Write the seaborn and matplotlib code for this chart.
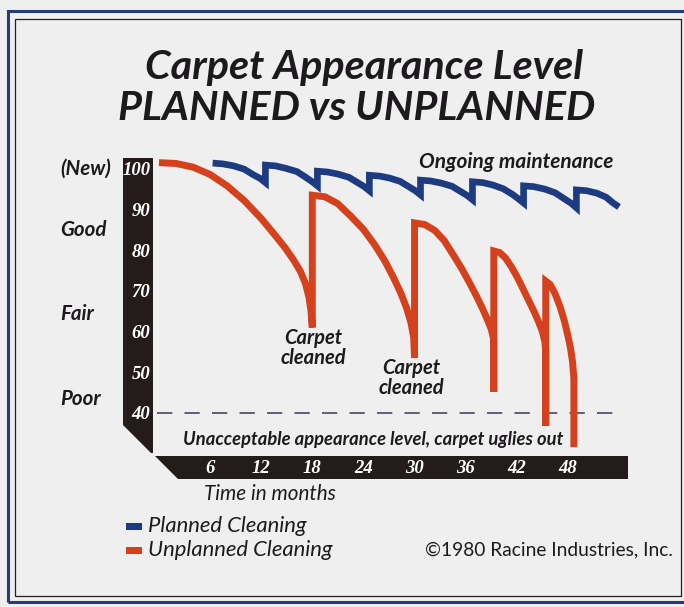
import matplotlib
matplotlib.use("Agg")
import numpy as np
import pandas as pd
import matplotlib.pyplot as plt
from matplotlib.patches import Polygon, Rectangle
import seaborn as sns

# ── Data ────────────────────────────────────────────────────
# Unplanned cleaning: appearance decays, then a jump when carpet is cleaned
red_month = [0, 2, 4, 6, 8, 10, 12, 13.5, 14.8, 15.8, 16.6, 17.2, 17.6, 17.85, 18,
             18, 19.5, 21, 22.5, 24, 25.3, 26.5, 27.5, 28.4, 29.1, 29.6, 29.9, 30,
             30, 31.2, 32.4, 33.5, 34.5, 35.5, 36.4, 37.2, 37.9, 38.5, 39.0, 39.3, 39.3,
             39.3, 40.0, 40.7, 41.4, 42.1, 42.8, 43.5, 44.1, 44.6, 45.0, 45.3, 45.4, 45.4,
             45.4, 45.9, 46.5, 47.1, 47.6, 48.0, 48.3, 48.55, 48.7, 48.7]
red_level = [101.5, 101.3, 100.4, 98.6, 95.8, 92.2, 87.8, 84.0, 80.6, 77.6, 74.8, 71.8, 68.5, 65, 61,
             93.5, 93.1, 91.4, 88.4, 85.1, 81.4, 77.4, 73.4, 69.4, 65.6, 62, 58.5, 53.5,
             86.7, 86.3, 84.8, 82.3, 79.0, 75.6, 72.2, 69.0, 66.0, 63.2, 60.6, 58, 45.2,
             79.8, 79.4, 78.0, 75.8, 73.2, 70.2, 67.2, 64.6, 62.2, 60, 57.5, 55, 36.8,
             72.4, 71.6, 69.3, 66, 62.5, 59, 56, 52.5, 48.5, 31.6]

# Planned cleaning: small scallops, maintenance every ~6 months
blue_month = [6.3, 7.5, 8.8, 10.0, 11.1, 11.9, 12.5,
              12.5, 13.7, 14.9, 16.2, 17.3, 18.0, 18.6,
              18.6, 19.8, 21.0, 22.3, 23.4, 24.1, 24.7,
              24.7, 25.9, 27.1, 28.3, 29.4, 30.1, 30.7,
              30.7, 31.9, 33.1, 34.4, 35.5, 36.2, 36.8,
              36.8, 38.0, 39.2, 40.4, 41.5, 42.2, 42.8,
              42.8, 44.0, 45.3, 46.5, 47.6, 48.4, 49.0,
              49.0, 50.2, 51.4, 52.5, 53.3, 54.0]
blue_level = [101.4, 101.2, 100.7, 99.9, 98.5, 97.6, 96.6,
              100.9, 100.7, 100.1, 99.3, 97.8, 96.8, 95.8,
              99.4, 99.2, 98.7, 97.9, 96.5, 95.6, 94.6,
              98.4, 98.2, 97.7, 96.9, 95.5, 94.6, 93.6,
              97.2, 97.0, 96.5, 95.7, 94.3, 93.4, 92.4,
              96.8, 96.6, 96.0, 95.1, 93.7, 92.6, 91.6,
              95.8, 95.6, 95.0, 94.1, 92.6, 91.5, 90.4,
              94.8, 94.6, 94.0, 93.0, 91.6, 90.6]

x_ticks = [6, 12, 18, 24, 30, 36, 42, 48]
y_ticks = [40, 50, 60, 70, 80, 90, 100]
quality_labels = ['(New)', 'Good', 'Fair', 'Poor']
quality_levels = [100, 85, 64.3, 43.4]
unacceptable_level = 40
legend_labels = ['Planned Cleaning', 'Unplanned Cleaning']

RED = '#d6411d'
BLUE = '#1d3b80'
INK = '#1c1a1c'
BAR = '#241b1b'
PAPER = '#efefef'

W, H = 684, 607


def fp(x, y):
    # pixel -> figure fraction
    return (x / W, 1 - y / H)


sns.set_theme(style='white')
plt.rcParams['font.family'] = ['Lato', 'DejaVu Sans']

fig = plt.figure(figsize=(W / 100, H / 100), dpi=100, facecolor=PAPER)
ax = fig.add_axes([0.2199, 0.2493, 0.710, 0.4995])
ax.set_facecolor('none')
ax.set_xlim(-1, 56)
ax.set_ylim(29.5, 104)

# black L-shaped axis bands
vbar = Polygon([fp(123, 158), fp(153, 158), fp(153, 453), fp(151, 453), fp(123, 425)],
               closed=True, transform=fig.transFigure, facecolor=BAR, edgecolor='none', zorder=-1)
hbar = Polygon([fp(155, 456), fp(628, 456), fp(628, 479), fp(178, 479)],
               closed=True, transform=fig.transFigure, facecolor=BAR, edgecolor='none', zorder=-1)
fig.patches.extend([vbar, hbar])

# double frame around the page (right side runs at the picture edge)
fig.patches.append(Rectangle(fp(8, 602), 678 / W, 591 / H, transform=fig.transFigure,
                             fill=False, edgecolor='#243c78', lw=2.2, zorder=-1))
fig.patches.append(Rectangle(fp(15, 596), 666 / W, 577 / H, transform=fig.transFigure,
                             fill=False, edgecolor='#222222', lw=0.9, zorder=-1))

# threshold line
ax.hlines(unacceptable_level, -0.2, 53.8, colors='#3b3852', lw=1.1,
          linestyles=(0, (10, 8)), zorder=1)

red_df = pd.DataFrame({'month': red_month, 'level': red_level})
blue_df = pd.DataFrame({'month': blue_month, 'level': blue_level})
sns.lineplot(data=red_df, x='month', y='level', sort=False, estimator=None,
             color=RED, lw=5.0, solid_joinstyle='miter', solid_capstyle='butt', ax=ax, zorder=3)
sns.lineplot(data=blue_df, x='month', y='level', sort=False, estimator=None,
             color=BLUE, lw=4.8, solid_joinstyle='miter', solid_capstyle='butt', ax=ax, zorder=2)

ax.set_xlabel('')
ax.set_ylabel('')
for s in ax.spines.values():
    s.set_visible(False)
ax.set_xticks(x_ticks)
ax.set_xticklabels([str(v) for v in x_ticks])
ax.set_yticks(y_ticks)
ax.set_yticklabels([str(v) for v in y_ticks])
ax.tick_params(axis='both', length=0, colors='white')
ax.tick_params(axis='x', pad=3)
ax.tick_params(axis='y', pad=0)
for lab in ax.get_xticklabels() + ax.get_yticklabels():
    lab.set_fontfamily('Liberation Serif')
    lab.set_fontweight('bold')
    lab.set_fontstyle('italic')
    lab.set_fontsize(13.5)
    lab.set_color('white')

# qualitative level names left of the band
for name, lvl in zip(quality_labels, quality_levels):
    ax.text(-11.6, lvl, name, ha='left', va='center', fontsize=14.8,
            fontstyle='italic', fontweight='bold', color=INK, clip_on=False)

# annotations
ax.text(41.95, 101.7, 'Ongoing maintenance', ha='center', va='center', fontsize=15,
        fontstyle='italic', fontweight='bold', color=INK)
ax.text(18.1, 56.0, 'Carpet\ncleaned', ha='center', va='center', fontsize=14.5,
        fontstyle='italic', fontweight='bold', color=INK, linespacing=1.0)
ax.text(29.6, 48.6, 'Carpet\ncleaned', ha='center', va='center', fontsize=14.5,
        fontstyle='italic', fontweight='bold', color=INK, linespacing=1.0)
ax.text(25.2, 33.4, 'Unacceptable appearance level, carpet uglies out', ha='center',
        va='center', fontsize=13.2, fontstyle='italic', fontweight='bold', color=INK)

# title
fig.text(*fp(364, 68), 'Carpet Appearance Level', ha='center', va='center',
         fontsize=29.8, fontstyle='italic', fontweight='bold', color=INK)
fig.text(*fp(357, 108), 'PLANNED vs UNPLANNED', ha='center', va='center',
         fontsize=29.8, fontstyle='italic', fontweight='bold', color=INK)

fig.text(*fp(270, 494), 'Time in months', ha='center', va='center',
         fontsize=14.9, fontstyle='italic', color=INK)

# legend (swatch + label)
for lab, col, yc in zip(legend_labels, [BLUE, RED], [526, 550]):
    fig.patches.append(Rectangle(fp(126, yc + 3.5), 16 / W, 7 / H, transform=fig.transFigure,
                                 facecolor=col, edgecolor='none'))
    fig.text(*fp(148, yc), lab, ha='left', va='center', fontsize=15.8,
             fontstyle='italic', color=INK)

fig.text(*fp(549, 550), '\u00a91980 Racine Industries, Inc.', ha='center', va='center',
         fontsize=13.8, color=INK)

fig.savefig('out.png', dpi=100, facecolor=PAPER)
